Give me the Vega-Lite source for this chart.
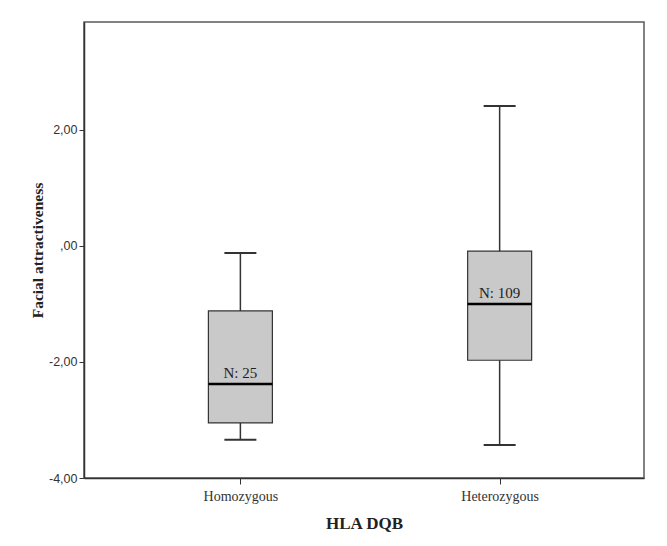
{
  "$schema": "https://vega.github.io/schema/vega-lite/v6.json",
  "autosize": {"type": "none"},
  "padding": {"left": 84, "top": 22, "right": 23, "bottom": 68},
  "width": 560,
  "height": 456,
  "background": "white",
  "config": {
    "view": {"stroke": "#5a5a5a", "strokeWidth": 1.5},
    "axis": {"grid": false, "domainColor": "#333333", "tickColor": "#333333", "labelColor": "#333333", "titleColor": "#222222"}
  },
  "data": {"values": [
    {"group": "Homozygous", "min": -3.34, "q1": -3.05, "median": -2.38, "q3": -1.12, "max": -0.12, "n": "N: 25"},
    {"group": "Heterozygous", "min": -3.43, "q1": -1.97, "median": -1.0, "q3": -0.09, "max": 2.41, "n": "N: 109"}
  ]},
  "encoding": {
    "x": {
      "field": "group", "type": "nominal", "sort": ["Homozygous", "Heterozygous"],
      "scale": {"type": "point", "padding": 0.58, "align": 0.52},
      "axis": {"title": "HLA DQB", "labelAngle": 0, "labelFont": "Liberation Serif", "labelFontSize": 14, "labelPadding": 5, "tickSize": 6, "titleFont": "Liberation Serif", "titleFontSize": 17, "titleFontWeight": "bold", "titlePadding": 12, "domainWidth": 1.5}
    }
  },
  "layer": [
    {
      "mark": {"type": "rule", "color": "#333333", "strokeWidth": 1.5},
      "encoding": {
        "y": {"field": "min", "type": "quantitative", "scale": {"domain": [-4, 3.86], "nice": false, "zero": false},
          "axis": {"title": "Facial attractiveness", "values": [-4, -2, 0, 2], "labelExpr": "datum.value == 0 ? ',00' : replace(replace(format(datum.value, '.2f'), '.', ','), '\u2212', '-')", "labelFont": "Liberation Sans", "labelFontSize": 12.5, "tickSize": 5, "labelPadding": 2, "titleFont": "Liberation Serif", "titleFontSize": 15.5, "titleFontWeight": "bold", "titlePadding": 3, "domainWidth": 1.5}},
        "y2": {"field": "max"}
      }
    },
    {
      "mark": {"type": "bar", "size": 64, "fill": "#c9c9c9", "stroke": "#333333", "strokeWidth": 1.2, "opacity": 1},
      "encoding": {
        "y": {"field": "q1", "type": "quantitative"},
        "y2": {"field": "q3"}
      }
    },
    {
      "mark": {"type": "tick", "size": 64, "thickness": 2.5, "color": "#000000", "opacity": 1},
      "encoding": {"y": {"field": "median", "type": "quantitative"}}
    },
    {
      "mark": {"type": "tick", "size": 32, "thickness": 2, "color": "#333333", "opacity": 1},
      "encoding": {"y": {"field": "min", "type": "quantitative"}}
    },
    {
      "mark": {"type": "tick", "size": 32, "thickness": 2, "color": "#333333", "opacity": 1},
      "encoding": {"y": {"field": "max", "type": "quantitative"}}
    },
    {
      "mark": {"type": "text", "font": "Liberation Serif", "fontSize": 15, "baseline": "alphabetic", "dy": -6, "color": "#222222"},
      "encoding": {
        "y": {"field": "median", "type": "quantitative"},
        "text": {"field": "n"}
      }
    }
  ]
}
